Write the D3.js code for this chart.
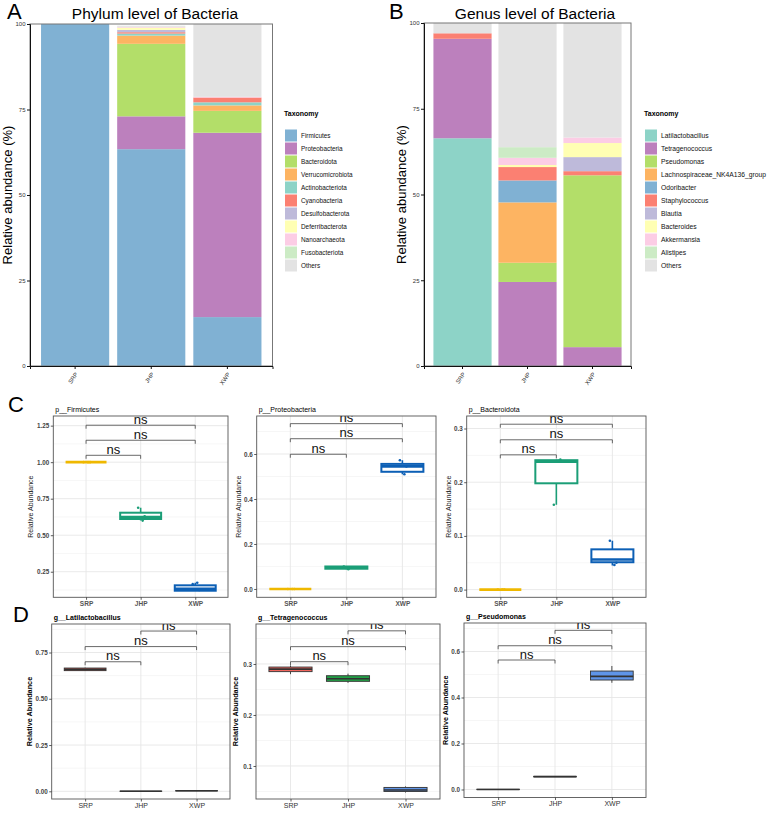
<!DOCTYPE html>
<html>
<head>
<meta charset="utf-8">
<script src="https://cdn.jsdelivr.net/npm/d3@7"></script>
<style>
  body { margin: 0; background: #fff; }
  svg text { font-family: "Liberation Sans", Arial, Helvetica, sans-serif; }
</style>
</head>
<body>
<svg id="fig" width="767" height="813"></svg>
<script>
/** DATA */
const groups = ["SRP", "JHP", "XWP"];

const phylumTaxa = ["Firmicutes", "Proteobacteria", "Bacteroidota", "Verrucomicrobiota", "Actinobacteriota",
  "Cyanobacteria", "Desulfobacterota", "Deferribacterota", "Nanoarchaeota", "Fusobacteriota", "Others"];
const phylumSRP = [100, 0, 0, 0, 0, 0, 0, 0, 0, 0, 0];
const phylumJHP = [63.4, 9.6, 21.2, 2.4, 0.6, 0.4, 0.7, 0.6, 0.2, 0.1, 0.3];
const phylumXWP = [14.3, 53.9, 6.4, 1.6, 0.9, 1.4, 0, 0, 0.2, 0, 21.3];

const genusTaxa = ["Latilactobacillus", "Tetragenococcus", "Pseudomonas", "Lachnospiraceae_NK4A136_group",
  "Odoribacter", "Staphylococcus", "Blautia", "Bacteroides", "Akkermansia", "Alistipes", "Others"];
const genusSRP = [66.4, 29.0, 0, 0, 0, 1.6, 0, 0, 0, 0, 3.0];
const genusJHP = [0, 24.5, 5.6, 17.6, 6.4, 3.9, 0, 0.6, 2.1, 3.1, 36.2];
const genusXWP = [0, 5.5, 50.1, 0, 0, 1.2, 4.1, 4.1, 1.6, 0, 33.4];

const stackTicks = [0, 25, 50, 75, 100];

// box stats per group: [min, q1, median, q3, max]
const firmicutesStats = [[1, 1, 1, 1, 1], [0.60, 0.611, 0.625, 0.654, 0.688], [0.118, 0.12, 0.133, 0.157, 0.175]];
const firmicutesPoints = [[1, 1, 1], [0.688, 0.60, 0.63], [0.165, 0.175, 0.125]];
const proteoStats = [[0, 0, 0, 0, 0], [0.088, 0.09, 0.095, 0.10, 0.102], [0.51, 0.521, 0.545, 0.556, 0.572]];
const proteoPoints = [[0, 0, 0], [0.10, 0.088, 0.095], [0.572, 0.51, 0.545]];
const bacteroStats = [[0, 0, 0, 0, 0], [0.158, 0.198, 0.238, 0.241, 0.242], [0.045, 0.051, 0.056, 0.075, 0.091]];
const bacteroPoints = [[0, 0, 0], [0.158, 0.24, 0.242], [0.091, 0.046, 0.05]];
const latiStats = [[0.65, 0.652, 0.659, 0.666, 0.668], [0, 0, 0, 0.001, 0.001], [0.001, 0.002, 0.003, 0.004, 0.005]];
const tetraStats = [[0.280, 0.285, 0.290, 0.294, 0.297], [0.263, 0.266, 0.271, 0.277, 0.281], [0.048, 0.050, 0.053, 0.058, 0.060]];
const pseudoStats = [[0, 0, 0, 0.001, 0.001], [0.054, 0.055, 0.056, 0.057, 0.058], [0.464, 0.476, 0.492, 0.515, 0.537]];

// significance brackets (y in data units)
const firmicutesBr = [1.047, 1.15, 1.253];
const proteoBr = [0.599, 0.668, 0.735];
const bacteroBr = [0.251, 0.279, 0.308];
const latiBr = [0.70, 0.782, 0.866];
const tetraBr = [0.3045, 0.334, 0.365];
const pseudoBr = [0.563, 0.625, 0.692];
const pairsC = [[0, 1], [0, 2], [0, 2]];
const pairsD = [[0, 1], [0, 2], [1, 2]];

/** STYLE CONSTANTS */
const set3 = ["#80b1d3", "#bc80bd", "#b3de69", "#fdb462", "#8dd3c7", "#fb8072", "#bebada", "#ffffb3", "#fccde5", "#ccebc5", "#e3e3e3"];
const set3g = ["#8dd3c7", "#bc80bd", "#b3de69", "#fdb462", "#80b1d3", "#fb8072", "#bebada", "#ffffb3", "#fccde5", "#ccebc5", "#e3e3e3"];
const colorsC = ["#efb800", "#1b9e77", "#0c5fb5"];
const colorsD = ["#f0655d", "#22a046", "#5f95e8"];
const jitter = [-2.5, 2, 4];

const svg = d3.select("#fig");

function panelLetter(t, x, y) {
  svg.append("text").attr("x", x).attr("y", y).attr("font-size", 22).attr("fill", "#000").text(t);
}

/** STACKED BARS */
function stackPanel(o) {
  const rows = groups.map((g, i) => {
    const r = { group: g };
    o.taxa.forEach((t, j) => r[t] = o.values[i][j]);
    return r;
  });
  const series = d3.stack().keys(o.taxa)(rows);
  const x = d3.scaleBand().domain(groups).range([o.l, o.r]).paddingInner(0.105).paddingOuter(0.145);
  const y = d3.scaleLinear().domain([0, 100]).range([o.b, o.t]);
  const color = d3.scaleOrdinal().domain(o.taxa).range(o.colors);
  const g = svg.append("g");

  g.selectAll("g.layer")
    .data(series)
    .join("g")
    .attr("fill", d => color(d.key))
    .selectAll("rect")
    .data(d => d)
    .join("rect")
    .attr("x", d => x(d.data.group))
    .attr("y", d => y(d[1]))
    .attr("width", x.bandwidth())
    .attr("height", d => Math.max(0, y(d[0]) - y(d[1])));

  g.append("rect")
    .attr("x", o.l).attr("y", o.t).attr("width", o.r - o.l).attr("height", o.b - o.t)
    .attr("fill", "none").attr("stroke", "#777").attr("stroke-width", 1);

  const yAxis = g.append("g")
    .attr("transform", `translate(${o.l},0)`)
    .call(d3.axisLeft(y).tickValues(stackTicks).tickSize(3).tickPadding(1.5));
  yAxis.select(".domain").attr("stroke", "#111");
  yAxis.selectAll("text").attr("font-size", 6).attr("fill", "#333");

  const xAxis = g.append("g")
    .attr("transform", `translate(0,${o.b})`)
    .call(d3.axisBottom(x).tickSize(3));
  xAxis.select(".domain").attr("stroke", "#111");
  xAxis.selectAll("text")
    .attr("font-size", 6).attr("fill", "#333")
    .attr("x", 0).attr("y", 0).attr("dy", "0.35em")
    .attr("transform", "translate(1.5,7) rotate(-55)")
    .style("text-anchor", "end");
  g.selectAll(".tick line").attr("stroke", "#111");

  g.append("text")
    .attr("transform", `translate(${o.yTitleX},${(o.t + o.b) / 2}) rotate(-90)`)
    .attr("text-anchor", "middle").attr("font-size", 13).attr("fill", "#000")
    .text("Relative abundance (%)");

  g.append("text")
    .attr("x", o.titleX).attr("y", 18.5).attr("text-anchor", "middle")
    .attr("font-size", 15.5).attr("fill", "#000").text(o.title);

  // legend
  const lg = g.append("g").attr("transform", `translate(${o.legendX},0)`);
  lg.append("text").attr("x", -1).attr("y", 116).attr("font-size", 7).attr("font-weight", "bold")
    .attr("fill", "#000").text("Taxonomy");
  const items = lg.selectAll("g.item").data(o.taxa).join("g")
    .attr("transform", (d, i) => `translate(0,${129.5 + i * 13})`);
  items.append("rect").attr("width", 12).attr("height", 12).attr("fill", d => color(d));
  items.append("text").attr("x", 16).attr("y", 6).attr("dy", "0.35em")
    .attr("font-size", o.legendFont).attr("fill", "#111").text(d => d);
}

stackPanel({
  taxa: phylumTaxa, values: [phylumSRP, phylumJHP, phylumXWP], colors: set3,
  l: 30, r: 272.5, t: 24, b: 366, title: "Phylum level of Bacteria", titleX: 155,
  yTitleX: 11.5, legendX: 285, legendFont: 6.4
});
stackPanel({
  taxa: genusTaxa, values: [genusSRP, genusJHP, genusXWP], colors: set3g,
  l: 424, r: 631, t: 23, b: 366, title: "Genus level of Bacteria", titleX: 535,
  yTitleX: 405.5, legendX: 645, legendFont: 6.75
});

panelLetter("A", 7, 18.5);
panelLetter("B", 389, 18.5);
panelLetter("C", 8, 411.5);
panelLetter("D", 13, 621.5);

/** BOX PLOTS */
let clipCount = 0;
function boxPanel(p) {
  const x = d3.scalePoint().domain(groups).range([p.l, p.r]).padding(0.6);
  const y = d3.scaleLinear().domain(p.domain).range([p.b, p.t]);
  const bw = x.step() * 0.75;
  const isC = p.style === "C";
  const g = svg.append("g");
  const id = "clip" + (clipCount++);
  g.append("clipPath").attr("id", id).append("rect")
    .attr("x", p.l).attr("y", p.t).attr("width", p.r - p.l).attr("height", p.b - p.t);
  const inner = g.append("g").attr("clip-path", `url(#${id})`);

  // grid
  const step = p.ticks[1] - p.ticks[0];
  const minor = [p.ticks[0] - step / 2].concat(p.ticks.map(t => t + step / 2))
    .filter(v => v > p.domain[0] && v < p.domain[1]);
  inner.selectAll("line.minor").data(minor).join("line")
    .attr("x1", p.l).attr("x2", p.r).attr("y1", d => y(d)).attr("y2", d => y(d))
    .attr("stroke", "#f0f0f0").attr("stroke-width", 0.6);
  inner.selectAll("line.major").data(p.ticks).join("line")
    .attr("x1", p.l).attr("x2", p.r).attr("y1", d => y(d)).attr("y2", d => y(d))
    .attr("stroke", "#e6e6e6").attr("stroke-width", 0.9);
  inner.selectAll("line.vert").data(groups).join("line")
    .attr("x1", d => x(d)).attr("x2", d => x(d)).attr("y1", p.t).attr("y2", p.b)
    .attr("stroke", "#e6e6e6").attr("stroke-width", 0.9);

  // boxes
  const data = p.stats.map((s, i) => ({ g: groups[i], s, c: p.colors[i] }));
  const lineCol = d => isC ? d.c : "#333";
  const boxes = inner.selectAll("g.box").data(data).join("g");
  boxes.append("line")
    .attr("x1", d => x(d.g)).attr("x2", d => x(d.g))
    .attr("y1", d => y(d.s[0])).attr("y2", d => y(d.s[1]))
    .attr("stroke", lineCol).attr("stroke-width", isC ? 1.6 : 0.9);
  boxes.append("line")
    .attr("x1", d => x(d.g)).attr("x2", d => x(d.g))
    .attr("y1", d => y(d.s[3])).attr("y2", d => y(d.s[4]))
    .attr("stroke", lineCol).attr("stroke-width", isC ? 1.6 : 0.9);
  boxes.append("rect")
    .attr("x", d => x(d.g) - bw / 2).attr("width", bw)
    .attr("y", d => y(d.s[3])).attr("height", d => y(d.s[1]) - y(d.s[3]))
    .attr("fill", d => isC ? "#fff" : d.c)
    .attr("stroke", lineCol).attr("stroke-width", isC ? 2 : 0.9);
  boxes.append("line")
    .attr("x1", d => x(d.g) - bw / 2).attr("x2", d => x(d.g) + bw / 2)
    .attr("y1", d => y(d.s[2])).attr("y2", d => y(d.s[2]))
    .attr("stroke", lineCol).attr("stroke-width", isC ? 2.6 : 1.6);

  if (p.points) {
    p.points.forEach((pts, i) => {
      inner.selectAll(null).data(pts).join("circle")
        .attr("cx", (d, j) => x(groups[i]) + jitter[j % jitter.length])
        .attr("cy", d => y(d)).attr("r", 1.3).attr("fill", p.colors[i]);
    });
  }

  // brackets
  const br = p.brackets.map((v, i) => ({ v, pair: p.pairs[i] }));
  inner.selectAll("path.br").data(br).join("path")
    .attr("d", d => {
      const x1 = x(groups[d.pair[0]]), x2 = x(groups[d.pair[1]]), yy = y(d.v);
      return `M${x1},${yy + 3.5}V${yy}H${x2}V${yy + 3.5}`;
    })
    .attr("fill", "none").attr("stroke", "#444").attr("stroke-width", 0.8);
  inner.selectAll("text.ns").data(br).join("text")
    .attr("x", d => (x(groups[d.pair[0]]) + x(groups[d.pair[1]])) / 2)
    .attr("y", d => y(d.v) - 1.5)
    .attr("text-anchor", "middle").attr("font-size", 13).attr("fill", "#111").text("ns");

  g.append("rect")
    .attr("x", p.l).attr("y", p.t).attr("width", p.r - p.l).attr("height", p.b - p.t)
    .attr("fill", "none").attr("stroke", "#555").attr("stroke-width", 0.9);

  const yAxis = g.append("g").attr("transform", `translate(${p.l},0)`)
    .call(d3.axisLeft(y).tickValues(p.ticks).tickFormat(d3.format(p.fmt)).tickSize(2.5).tickPadding(1.5));
  yAxis.select(".domain").remove();
  yAxis.selectAll("text").attr("font-size", 6.3).attr("font-weight", "bold").attr("fill", "#444");
  const xAxis = g.append("g").attr("transform", `translate(0,${p.b})`)
    .call(d3.axisBottom(x).tickSize(2.5).tickPadding(1.5));
  xAxis.select(".domain").remove();
  xAxis.selectAll("text").attr("font-size", isC ? 6.5 : 7).attr("font-weight", isC ? "bold" : "normal")
    .attr("fill", isC ? "#555" : "#333");
  g.selectAll(".tick line").attr("stroke", "#333").attr("stroke-width", 0.8);

  g.append("text")
    .attr("transform", `translate(${p.l - p.yTitleOff},${(p.t + p.b) / 2}) rotate(-90)`)
    .attr("text-anchor", "middle").attr("font-size", isC ? 7 : 7.3)
    .attr("font-weight", isC ? "normal" : "bold").attr("fill", isC ? "#222" : "#000")
    .text("Relative Abundance");

  g.append("text").attr("x", p.l + 2).attr("y", p.t - 4)
    .attr("font-size", 7).attr("font-weight", isC ? "normal" : "bold").attr("fill", "#000")
    .text(p.title);
}

boxPanel({ title: "p__Firmicutes", style: "C", stats: firmicutesStats, points: firmicutesPoints,
  brackets: firmicutesBr, pairs: pairsC, colors: colorsC, ticks: [0.25, 0.5, 0.75, 1.0, 1.25], fmt: ".2f",
  domain: [0.075, 1.316], l: 53.3, r: 228, t: 416, b: 597.3, yTitleOff: 20 });
boxPanel({ title: "p__Proteobacteria", style: "C", stats: proteoStats, points: proteoPoints,
  brackets: proteoBr, pairs: pairsC, colors: colorsC, ticks: [0, 0.2, 0.4, 0.6], fmt: ".1f",
  domain: [-0.037, 0.769], l: 256.7, r: 436, t: 416, b: 597.3, yTitleOff: 16 });
boxPanel({ title: "p__Bacteroidota", style: "C", stats: bacteroStats, points: bacteroPoints,
  brackets: bacteroBr, pairs: pairsC, colors: colorsC, ticks: [0, 0.1, 0.2, 0.3], fmt: ".1f",
  domain: [-0.0143, 0.3233], l: 466.7, r: 646, t: 416, b: 597.3, yTitleOff: 16 });
boxPanel({ title: "g__Latilactobacillus", style: "D", stats: latiStats,
  brackets: latiBr, pairs: pairsD, colors: colorsD, ticks: [0, 0.25, 0.5, 0.75], fmt: ".2f",
  domain: [-0.0416, 0.904], l: 51.7, r: 230, t: 624, b: 799, yTitleOff: 20 });
boxPanel({ title: "g__Tetragenococcus", style: "D", stats: tetraStats,
  brackets: tetraBr, pairs: pairsD, colors: colorsD, ticks: [0.1, 0.2, 0.3], fmt: ".1f",
  domain: [0.0353, 0.3784], l: 256, r: 440, t: 624, b: 799, yTitleOff: 18 });
boxPanel({ title: "g__Pseudomonas", style: "D", stats: pseudoStats,
  brackets: pseudoBr, pairs: pairsD, colors: colorsD, ticks: [0, 0.2, 0.4, 0.6], fmt: ".1f",
  domain: [-0.0348, 0.7239], l: 464, r: 646, t: 623, b: 797.5, yTitleOff: 16 });
</script>
</body>
</html>
